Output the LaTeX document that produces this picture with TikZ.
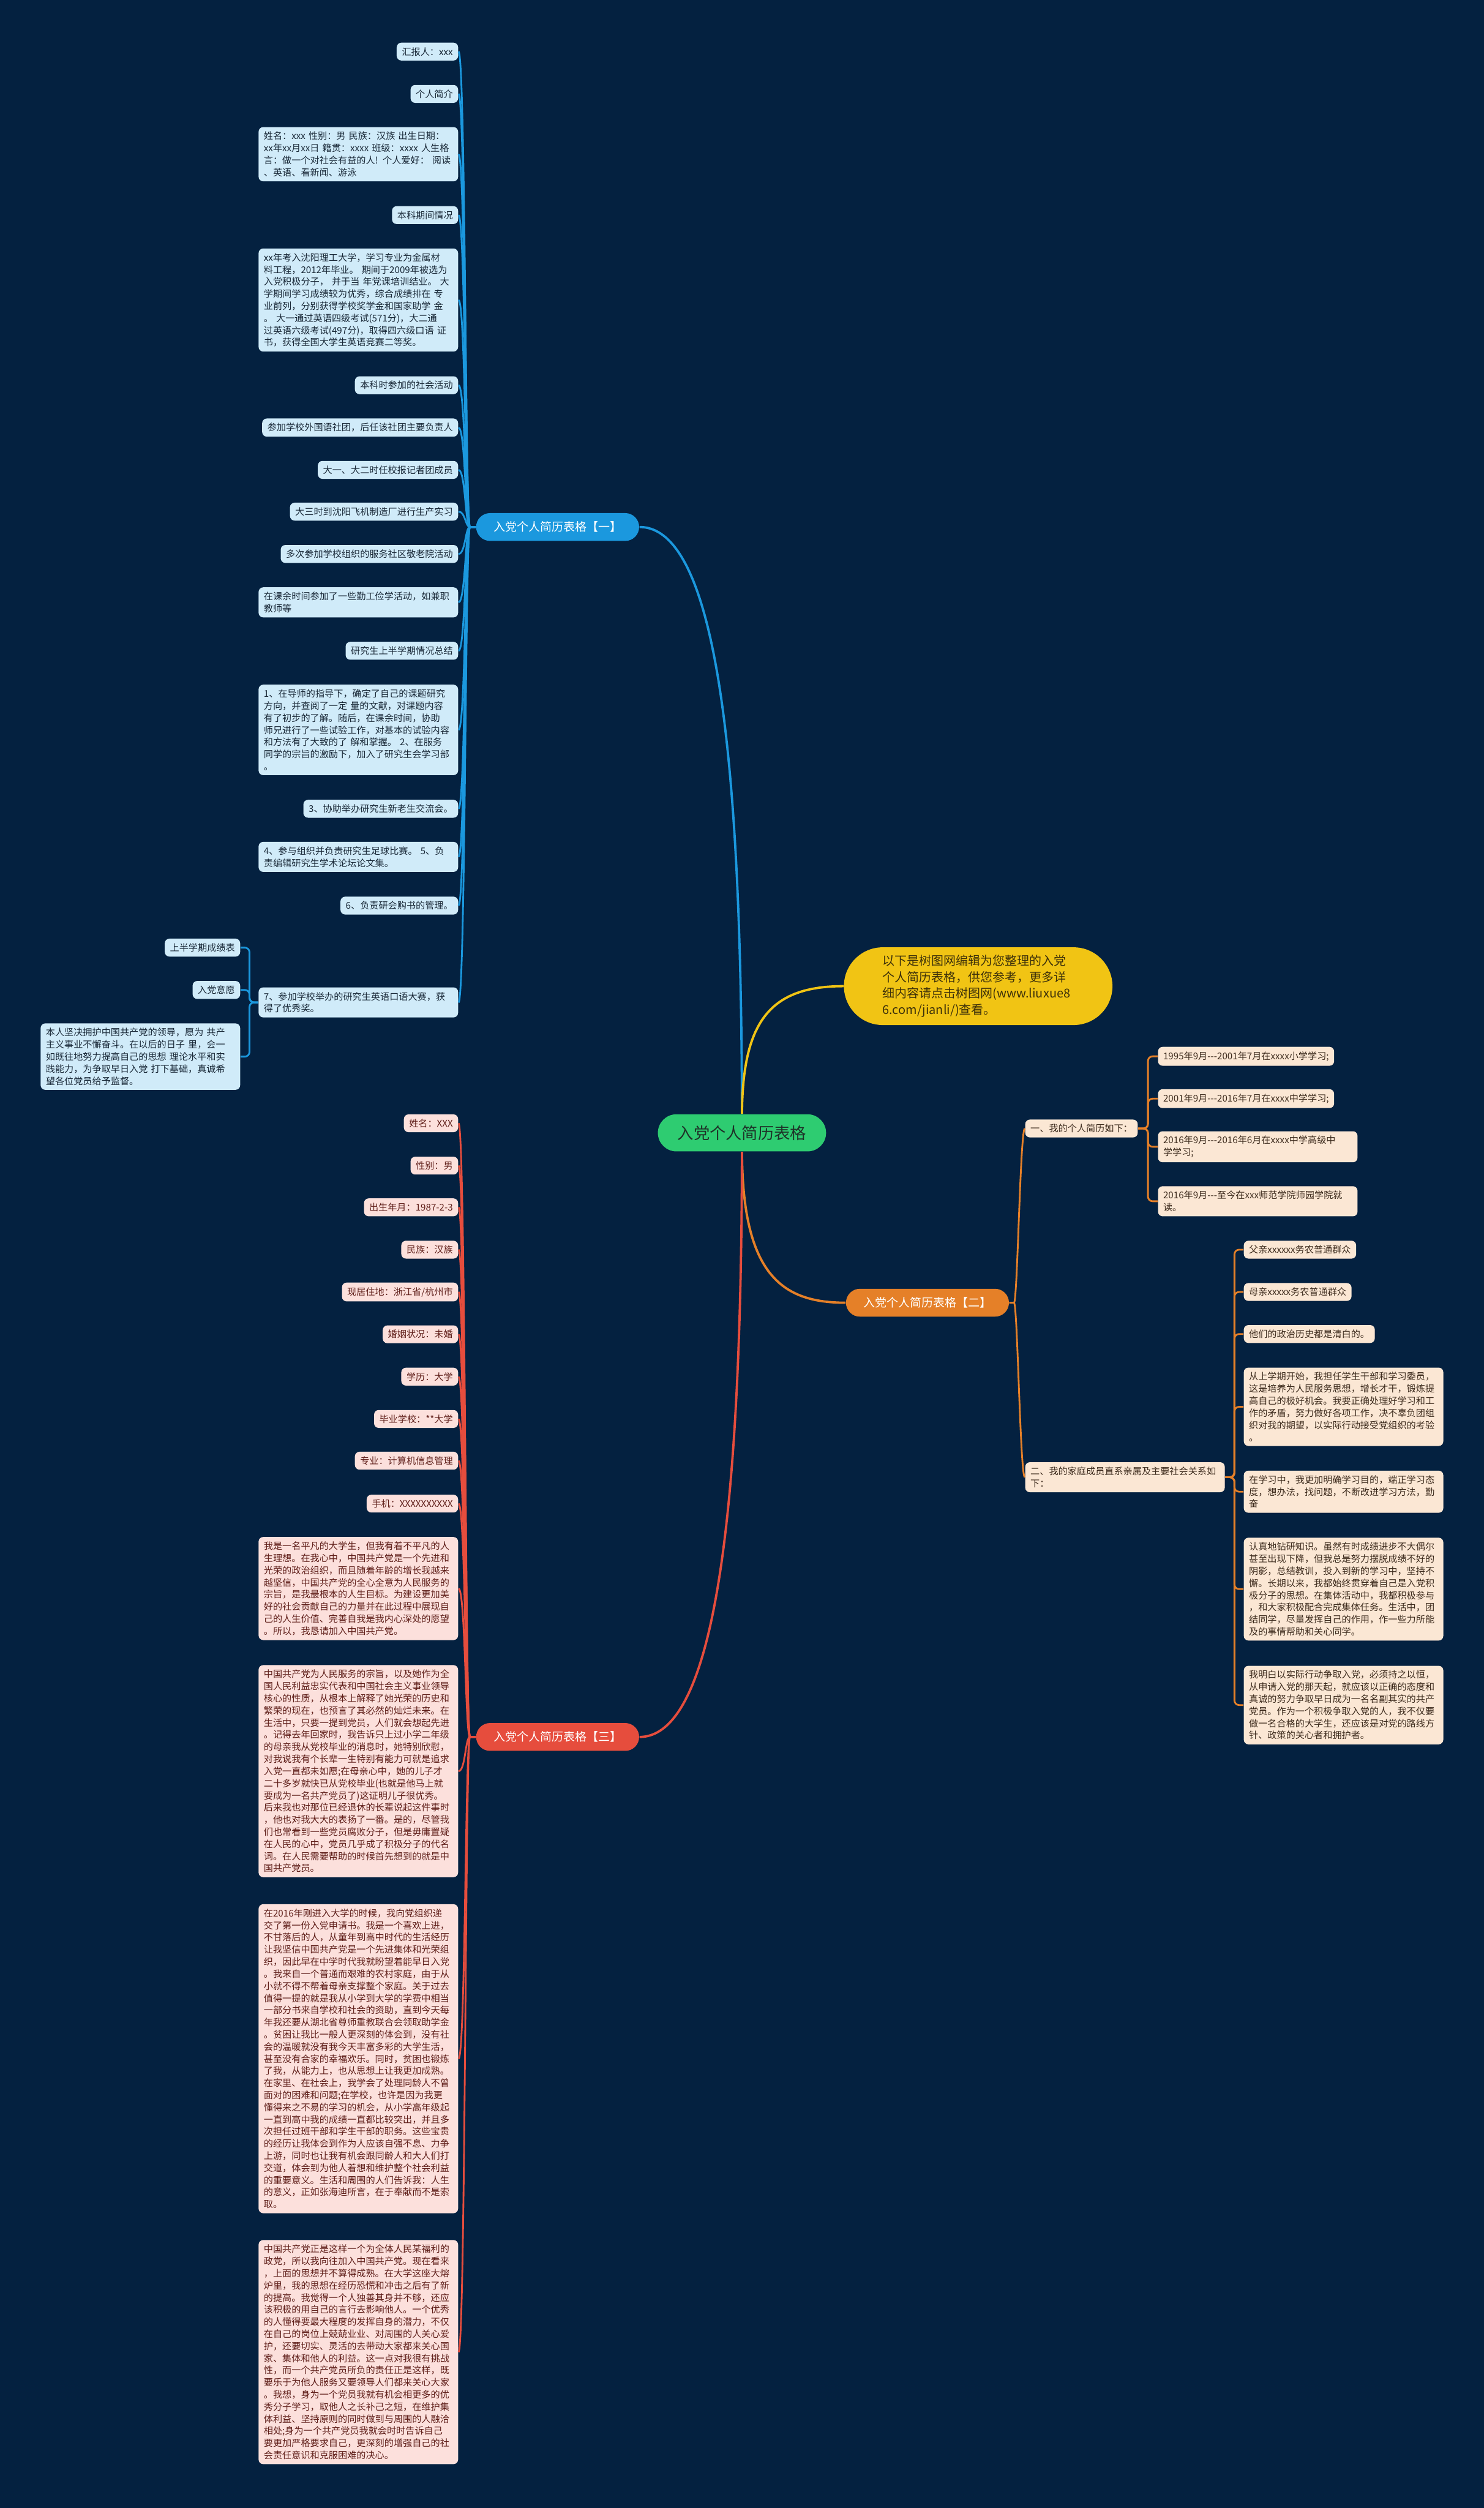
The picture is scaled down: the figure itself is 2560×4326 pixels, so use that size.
\documentclass[tikz,border=0pt]{standalone}
\usepackage{fontspec}
\newfontfamily\cjk{Noto Sans CJK SC}
\usetikzlibrary{positioning, calc}

\definecolor{cBg}{RGB}{4,33,64}
\definecolor{cBlue}{RGB}{27,152,222}
\definecolor{cBlueLeaf}{RGB}{208,235,249}
\definecolor{cBlueText}{RGB}{25,40,55}
\definecolor{cRed}{RGB}{230,77,61}
\definecolor{cRedLeaf}{RGB}{252,224,220}
\definecolor{cRedText}{RGB}{95,30,25}
\definecolor{cOrange}{RGB}{229,128,40}
\definecolor{cOrangeLeaf}{RGB}{251,231,212}
\definecolor{cOrangeText}{RGB}{60,42,28}
\definecolor{cYellow}{RGB}{241,196,20}
\definecolor{cYellowText}{RGB}{60,48,10}
\definecolor{cGreen}{RGB}{46,204,113}
\definecolor{cGreenText}{RGB}{30,50,40}

\newcommand\leaffont{\cjk\fontsize{4.55}{5.95}\selectfont}

\tikzset{
  leaf/.style={rounded corners=0.08cm, inner xsep=0.09cm, inner ysep=0.08cm, align=left, font=\leaffont},
  textblock/.style={text width=3.26cm},
  bluebox/.style={leaf, fill=cBlueLeaf, text=cBlueText},
  redbox/.style={leaf, fill=cRedLeaf, text=cRedText},
  orangebox/.style={leaf, fill=cOrangeLeaf, text=cOrangeText},
  branchnode/.style={rounded corners=0.24cm, minimum width=2.81cm, minimum height=0.48cm, inner sep=0pt, font=\cjk\fontsize{5.7}{7}\selectfont},
  rootnode/.style={rounded corners=0.32cm, minimum width=2.9cm, minimum height=0.64cm, inner sep=0pt, fill=cGreen, text=cGreenText, font=\cjk\fontsize{7.9}{9}\selectfont},
  intronode/.style={rounded corners=0.67cm, minimum height=1.34cm, inner xsep=0.665cm, inner ysep=0.1cm, text width=3.3cm, align=left, fill=cYellow, text=cYellowText, font=\cjk\fontsize{6}{8}\selectfont},
  mainline/.style={line width=0.04cm},
  subline/.style={line width=0.03cm}
}

\begin{document}
\begin{tikzpicture}[x=0.01cm, y=-0.01cm]
  % background
  \fill[cBg] (0,0) rectangle (2560,4326);
  \useasboundingbox (0,0) rectangle (2560,4326);

  % centre topic and main branches
  \node[rootnode] (root) at (1280,1954) {入党个人简历表格};
  \node[branchnode, fill=cBlue, text=white] (b1) at (962,909) {入党个人简历表格【一】};
  \node[branchnode, fill=cOrange, text=white] (b2) at (1600,2247) {入党个人简历表格【二】};
  \node[branchnode, fill=cRed, text=white] (b3) at (962,2996) {入党个人简历表格【三】};
  \node[intronode] (intro) at (1687.5,1701) {以下是树图网编辑为您整理的入党\\个人简历表格，供您参考，更多详\\细内容请点击树图网(www.liuxue8\\6.com/jianli/)查看。};

  \draw[mainline, cBlue] (root.north) .. controls (1279,1400) and (1250,909) .. (b1.east);
  \draw[mainline, cYellow] (root.north) .. controls (1281,1760) and (1330,1701) .. (intro.west);
  \draw[mainline, cOrange] (root.south) .. controls (1281,2200) and (1350,2247) .. (b2.west);
  \draw[mainline, cRed] (root.south) .. controls (1279,2500) and (1250,2996) .. (b3.east);

  % branch one (blue)
  \node[bluebox, anchor=east] (n1) at (791,89) {汇报人：xxx};
  \node[bluebox, anchor=east] (n2) at (791,162) {个人简介};
  \node[bluebox, textblock, anchor=east] (n3) at (791,266) {姓名：xxx 性别：男 民族：汉族 出生日期：\\xx年xx月xx日 籍贯：xxxx 班级：xxxx 人生格\\言：做一个对社会有益的人! 个人爱好： 阅读\\、英语、看新闻、游泳};
  \node[bluebox, anchor=east] (n4) at (791,371) {本科期间情况};
  \node[bluebox, textblock, anchor=east] (n5) at (791,517.5) {xx年考入沈阳理工大学，学习专业为金属材\\料工程，2012年毕业。 期间于2009年被选为\\入党积极分子， 并于当 年党课培训结业。 大\\学期间学习成绩较为优秀，综合成绩排在 专\\业前列，分别获得学校奖学金和国家助学 金\\。 大一通过英语四级考试(571分)，大二通\\过英语六级考试(497分)，取得四六级口语 证\\书，获得全国大学生英语竞赛二等奖。};
  \node[bluebox, anchor=east] (n6) at (791,664.5) {本科时参加的社会活动};
  \node[bluebox, anchor=east] (n7) at (791,737.5) {参加学校外国语社团，后任该社团主要负责人};
  \node[bluebox, anchor=east] (n8) at (791,810.5) {大一、大二时任校报记者团成员};
  \node[bluebox, anchor=east] (n9) at (791,882.5) {大三时到沈阳飞机制造厂进行生产实习};
  \node[bluebox, anchor=east] (n10) at (791,955.5) {多次参加学校组织的服务社区敬老院活动};
  \node[bluebox, textblock, anchor=east] (n11) at (791,1039) {在课余时间参加了一些勤工俭学活动，如兼职\\教师等};
  \node[bluebox, anchor=east] (n12) at (791,1122.5) {研究生上半学期情况总结};
  \node[bluebox, textblock, anchor=east] (n13) at (791,1259) {1、在导师的指导下，确定了自己的课题研究\\方向，并查阅了一定 量的文献，对课题内容\\有了初步的了解。随后，在课余时间，协助\\师兄进行了一些试验工作，对基本的试验内容\\和方法有了大致的了 解和掌握。 2、在服务\\同学的宗旨的激励下，加入了研究生会学习部\\。};
  \node[bluebox, anchor=east] (n14) at (791,1395) {3、协助举办研究生新老生交流会。};
  \node[bluebox, textblock, anchor=east] (n15) at (791,1478) {4、参与组织并负责研究生足球比赛。 5、负\\责编辑研究生学术论坛论文集。};
  \node[bluebox, anchor=east] (n16) at (791,1562) {6、负责研会购书的管理。};
  \node[bluebox, textblock, anchor=east] (n17) at (791,1729) {7、参加学校举办的研究生英语口语大赛，获\\得了优秀奖。};
  \node[bluebox, anchor=east] (n17a) at (415,1634.5) {上半学期成绩表};
  \node[bluebox, anchor=east] (n17b) at (415,1707.5) {入党意愿};
  \node[bluebox, textblock, anchor=east] (n17c) at (415,1822.5) {本人坚决拥护中国共产党的领导，愿为 共产\\主义事业不懈奋斗。在以后的日子 里，会一\\如既往地努力提高自己的思想 理论水平和实\\践能力，为争取早日入党 打下基础，真诚希\\望各位党员给予监督。};

  \foreach \i in {1,...,17}
    \draw[subline, cBlue] (b1.west) -- ++(-10,0) .. controls +(-8,0) and +(12,0) .. (n\i.east);
  \foreach \i in {a,b,c}
    \draw[subline, cBlue, rounded corners=0.08cm] (n17.west) -- ++(-15,0) |- (n17\i.east);

  % branch two (orange)
  \node[orangebox, anchor=west] (s1) at (1768,1946.5) {一、我的个人简历如下：};
  \node[orangebox, textblock, anchor=west] (s2) at (1768,2548) {二、我的家庭成员直系亲属及主要社会关系如\\下：};
  \node[orangebox, anchor=west] (a1) at (1997,1822) {1995年9月---2001年7月在xxxx小学学习;};
  \node[orangebox, anchor=west] (a2) at (1997,1895) {2001年9月---2016年7月在xxxx中学学习;};
  \node[orangebox, textblock, anchor=west] (a3) at (1997,1978) {2016年9月---2016年6月在xxxx中学高级中\\学学习;};
  \node[orangebox, textblock, anchor=west] (a4) at (1997,2072) {2016年9月---至今在xxx师范学院师园学院就\\读。};
  \node[orangebox, anchor=west] (f1) at (2145,2155.5) {父亲xxxxxx务农普通群众};
  \node[orangebox, anchor=west] (f2) at (2145,2228.5) {母亲xxxxx务农普通群众};
  \node[orangebox, anchor=west] (f3) at (2145,2301) {他们的政治历史都是清白的。};
  \node[orangebox, textblock, anchor=west] (f4) at (2145,2426.5) {从上学期开始，我担任学生干部和学习委员，\\这是培养为人民服务思想，增长才干，锻炼提\\高自己的极好机会。我要正确处理好学习和工\\作的矛盾，努力做好各项工作，决不辜负团组\\织对我的期望，以实际行动接受党组织的考验\\。};
  \node[orangebox, textblock, anchor=west] (f5) at (2145,2573) {在学习中，我更加明确学习目的，端正学习态\\度，想办法，找问题，不断改进学习方法，勤\\奋};
  \node[orangebox, textblock, anchor=west] (f6) at (2145,2741) {认真地钻研知识。虽然有时成绩进步不大偶尔\\甚至出现下降，但我总是努力摆脱成绩不好的\\阴影，总结教训，投入到新的学习中，坚持不\\懈。长期以来，我都始终贯穿着自己是入党积\\极分子的思想。在集体活动中，我都积极参与\\，和大家积极配合完成集体任务。生活中，团\\结同学，尽量发挥自己的作用，作一些力所能\\及的事情帮助和关心同学。};
  \node[orangebox, textblock, anchor=west] (f7) at (2145,2941) {我明白以实际行动争取入党，必须持之以恒，\\从申请入党的那天起，就应该以正确的态度和\\真诚的努力争取早日成为一名名副其实的共产\\党员。作为一个积极争取入党的人，我不仅要\\做一名合格的大学生，还应该是对党的路线方\\针、政策的关心者和拥护者。};

  \foreach \s in {s1,s2}
    \draw[subline, cOrange] (b2.east) -- ++(8,0) .. controls +(6,0) and +(-8,0) .. (\s.west);
  \foreach \i in {1,...,4}
    \draw[subline, cOrange, rounded corners=0.08cm] (s1.east) -- ++(17,0) |- (a\i.west);
  \foreach \i in {1,...,7}
    \draw[subline, cOrange, rounded corners=0.08cm] (s2.east) -- ++(16,0) |- (f\i.west);

  % branch three (red)
  \node[redbox, anchor=east] (r1) at (791,1937.5) {姓名：XXX};
  \node[redbox, anchor=east] (r2) at (791,2010.5) {性别：男};
  \node[redbox, anchor=east] (r3) at (791,2082.5) {出生年月：1987-2-3};
  \node[redbox, anchor=east] (r4) at (791,2155.5) {民族：汉族};
  \node[redbox, anchor=east] (r5) at (791,2228.5) {现居住地：浙江省/杭州市};
  \node[redbox, anchor=east] (r6) at (791,2301.5) {婚姻状况：未婚};
  \node[redbox, anchor=east] (r7) at (791,2374.5) {学历：大学};
  \node[redbox, anchor=east] (r8) at (791,2447.5) {毕业学校：**大学};
  \node[redbox, anchor=east] (r9) at (791,2519.5) {专业：计算机信息管理};
  \node[redbox, anchor=east] (r10) at (791,2593.5) {手机：XXXXXXXXXX};
  \node[redbox, textblock, anchor=east] (r11) at (791,2740) {我是一名平凡的大学生，但我有着不平凡的人\\生理想。在我心中，中国共产党是一个先进和\\光荣的政治组织，而且随着年龄的增长我越来\\越坚信，中国共产党的全心全意为人民服务的\\宗旨，是我最根本的人生目标。为建设更加美\\好的社会贡献自己的力量并在此过程中展现自\\己的人生价值、完善自我是我内心深处的愿望\\。所以，我恳请加入中国共产党。};
  \node[redbox, textblock, anchor=east] (r12) at (791,3055) {中国共产党为人民服务的宗旨，以及她作为全\\国人民利益忠实代表和中国社会主义事业领导\\核心的性质，从根本上解释了她光荣的历史和\\繁荣的现在，也预言了其必然的灿烂未来。在\\生活中，只要一提到党员，人们就会想起先进\\。记得去年回家时，我告诉只上过小学二年级\\的母亲我从党校毕业的消息时，她特别欣慰，\\对我说我有个长辈一生特别有能力可就是追求\\入党一直都未如愿;在母亲心中，她的儿子才\\二十多岁就快已从党校毕业(也就是他马上就\\要成为一名共产党员了)这证明儿子很优秀。\\后来我也对那位已经退休的长辈说起这件事时\\，他也对我大大的表扬了一番。是的，尽管我\\们也常看到一些党员腐败分子，但是毋庸置疑\\在人民的心中，党员几乎成了积极分子的代名\\词。在人民需要帮助的时候首先想到的就是中\\国共产党员。};
  \node[redbox, textblock, anchor=east] (r13) at (791,3551) {在2016年刚进入大学的时候，我向党组织递\\交了第一份入党申请书。我是一个喜欢上进，\\不甘落后的人，从童年到高中时代的生活经历\\让我坚信中国共产党是一个先进集体和光荣组\\织，因此早在中学时代我就盼望着能早日入党\\。我来自一个普通而艰难的农村家庭，由于从\\小就不得不帮着母亲支撑整个家庭。关于过去\\值得一提的就是我从小学到大学的学费中相当\\一部分书来自学校和社会的资助，直到今天每\\年我还要从湖北省尊师重教联合会领取助学金\\。贫困让我比一般人更深刻的体会到，没有社\\会的温暖就没有我今天丰富多彩的大学生活，\\甚至没有合家的幸福欢乐。同时，贫困也锻炼\\了我，从能力上，也从思想上让我更加成熟。\\在家里、在社会上，我学会了处理同龄人不曾\\面对的困难和问题;在学校，也许是因为我更\\懂得来之不易的学习的机会，从小学高年级起\\一直到高中我的成绩一直都比较突出，并且多\\次担任过班干部和学生干部的职务。这些宝贵\\的经历让我体会到作为人应该自强不息、力争\\上游，同时也让我有机会跟同龄人和大人们打\\交道，体会到为他人着想和维护整个社会利益\\的重要意义。生活和周围的人们告诉我：人生\\的意义，正如张海迪所言，在于奉献而不是索\\取。};
  \node[redbox, textblock, anchor=east] (r14) at (791,4057) {中国共产党正是这样一个为全体人民某福利的\\政党，所以我向往加入中国共产党。现在看来\\，上面的思想并不算得成熟。在大学这座大熔\\炉里，我的思想在经历恐慌和冲击之后有了新\\的提高。我觉得一个人独善其身并不够，还应\\该积极的用自己的言行去影响他人。一个优秀\\的人懂得要最大程度的发挥自身的潜力，不仅\\在自己的岗位上兢兢业业、对周围的人关心爱\\护，还要切实、灵活的去带动大家都来关心国\\家、集体和他人的利益。这一点对我很有挑战\\性，而一个共产党员所负的责任正是这样，既\\要乐于为他人服务又要领导人们都来关心大家\\。我想，身为一个党员我就有机会相更多的优\\秀分子学习，取他人之长补己之短，在维护集\\体利益、坚持原则的同时做到与周围的人融洽\\相处;身为一个共产党员我就会时时告诉自己\\要更加严格要求自己，更深刻的增强自己的社\\会责任意识和克服困难的决心。};

  \foreach \i in {1,...,14}
    \draw[subline, cRed] (b3.west) -- ++(-10,0) .. controls +(-8,0) and +(12,0) .. (r\i.east);
\end{tikzpicture}
\end{document}
